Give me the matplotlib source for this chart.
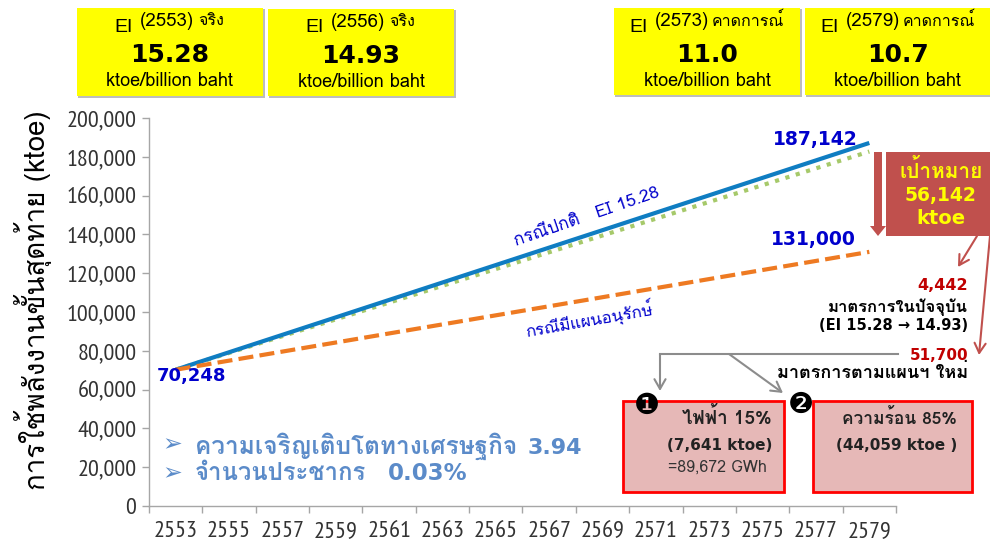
import matplotlib
matplotlib.use('Agg')
import matplotlib.pyplot as plt
from matplotlib.patches import Rectangle, FancyArrow

# ---------- data ----------
years = [2553, 2579]
normal_case = [70248, 187142]
current_measures = [70248, 182700]
plan_case = [70248, 131000]
year_labels = list(range(2553, 2581, 2))
y_values = list(range(0, 200001, 20000))

TH = ['Loma', 'DejaVu Sans']
TXT = ['DejaVu Sans']
NARROW = ['PT Sans Narrow', 'Liberation Sans']

fig = plt.figure(figsize=(9.9, 5.5), dpi=100)
ax = fig.add_axes([149/990, (550-506)/550, (896-149)/990, (506-118)/550])
ax.set_xlim(2552, 2580)
ax.set_ylim(0, 200000)
ax.plot(years, current_measures, color='#A6C96A', lw=3, ls=(0, (1, 1.6)), zorder=2)
ax.plot(years, normal_case, color='#0F7DC2', lw=3, zorder=3, solid_capstyle='butt')
ax.plot(years, plan_case, color='#EE7A22', lw=3, ls=(0, (3.6, 1.5)), zorder=4)
for s in ['top', 'right']:
    ax.spines[s].set_visible(False)
for s in ['left', 'bottom']:
    ax.spines[s].set_color('#A6A6A6')
    ax.spines[s].set_linewidth(1)
ax.set_yticks(y_values)
ax.set_yticklabels([f'{v:,}' for v in y_values], family=NARROW, fontsize=17.5, color='#333333')
ax.set_xticks(range(2552, 2581, 2))
ax.set_xticklabels([])
ax.set_xticks(year_labels, minor=True)
ax.set_xticklabels([str(y) for y in year_labels], minor=True, family=NARROW, fontsize=17.5, color='#333333')
ax.tick_params(axis='x', which='major', length=5, color='#A6A6A6', width=1)
ax.tick_params(axis='x', which='minor', length=0, pad=11)
ax.tick_params(axis='y', length=5, color='#A6A6A6', width=1, pad=4)

# ---------- overlay in pixel coordinates ----------
ov = fig.add_axes([0, 0, 1, 1], zorder=5)
ov.set_xlim(0, 990)
ov.set_ylim(550, 0)
ov.axis('off')
ov.patch.set_alpha(0)

def T(x, y, s, fam=TH, size=12, color='black', ha='center', weight='normal', rot=0):
    ov.text(x, y, s, family=fam, fontsize=size, color=color, ha=ha, va='center',
            weight=weight, rotation=rot, rotation_mode='anchor')

for (x0, x1, y0, y1, yr, tag, val, ei_dx, yr_dx) in [
    (77, 263, 8, 96, '(2553)', 'จริง', '15.28', 47, 90),
    (268, 454, 9, 96, '(2556)', 'จริง', '14.93', 47, 90),
    (614, 800, 8, 95, '(2573)', 'คาดการณ์', '11.0', 25, 68),
    (805, 990, 8, 95, '(2579)', 'คาดการณ์', '10.7', 25, 68),
]:
    ov.add_patch(Rectangle((x0+1, y0+1), x1-x0+1, y1-y0+1, fc='#BDBDBD', ec='none'))
    ov.add_patch(Rectangle((x0, y0), x1-x0, y1-y0, fc='#FFFF00', ec='none'))
    T(x0+ei_dx, y0+19, 'EI', fam=['Liberation Sans'], size=14)
    T(x0+yr_dx, y0+13, yr, size=13.5)
    T(x0+134, y0+13, tag, size=11.5)
    T((x0+x1)/2, y0+47, val, fam=TXT, size=18, weight='bold')
    T((x0+x1)/2, y0+73, 'ktoe/billion baht', size=13)

T(33, 300, 'การใช้พลังงานขั้นสุดท้าย (ktoe)', size=20, rot=90)

BL = '#0000CC'
T(815, 140, '187,142', fam=TXT, size=13.5, color=BL, weight='bold')
T(813, 240, '131,000', fam=TXT, size=13.5, color=BL, weight='bold')
T(192, 376, '70,248', fam=TXT, size=13, color=BL, weight='bold')
T(587, 217, 'กรณีปกติ   EI 15.28', size=12.5, color=BL, rot=19)
T(589, 319, 'กรณีมีแผนอนุรักษ์', size=12, color=BL, rot=10)

# target box and arrows
ov.add_patch(FancyArrow(878, 152, 0, 84, width=8, head_width=16, head_length=10,
                        length_includes_head=True, fc='#C0504D', ec='none'))
ov.add_patch(Rectangle((886, 152), 104, 84, fc='#C0504D', ec='none'))
YEL = '#FFFF00'
T(941, 171, 'เป้าหมาย', size=15, color=YEL, weight='bold')
T(941, 195, '56,142', fam=TXT, size=13.5, color=YEL, weight='bold')
T(941, 219, 'ktoe', fam=TXT, size=14, color=YEL, weight='bold')
for a, b in [((977, 236), (958, 267)), ((990, 236), (979, 355))]:
    ov.annotate('', xy=b, xytext=a, arrowprops=dict(arrowstyle='->,head_length=0.7,head_width=0.4',
                color='#C0504D', lw=1.5, shrinkA=0, shrinkB=0))

RED = '#C00000'
T(968, 286, '4,442', fam=TXT, size=11.5, color=RED, ha='right', weight='bold')
T(968, 307, 'มาตรการในปัจจุบัน', size=12, ha='right', weight='bold')
T(968, 326, '(EI 15.28 → 14.93)', fam=TXT, size=10.5, ha='right', weight='bold')
T(968, 355, '51,700', fam=TXT, size=11, color=RED, ha='right', weight='bold')
T(968, 373, 'มาตรการตามแผนฯ ใหม่', size=13, ha='right', weight='bold')

GR = '#8C8C8C'
ov.plot([660, 898], [354, 354], color=GR, lw=1.5)
for a, b in [((660, 354), (660, 391)), ((729, 354), (783, 393))]:
    ov.annotate('', xy=b, xytext=a, arrowprops=dict(arrowstyle='->,head_length=0.7,head_width=0.4',
                color=GR, lw=1.5, shrinkA=0, shrinkB=0))

for x0, x1 in [(623, 784), (813, 972)]:
    ov.add_patch(Rectangle((x0, 401), x1-x0, 91, fc='#E6B8B7', ec='#FF0000', lw=2))
T(647, 406, '❶', fam=TXT, size=21)
T(801, 405, '❷', fam=TXT, size=21)
T(727, 417, 'ไฟฟ้า 15%', size=13.5, weight='bold', color='#222222')
T(720, 445, '(7,641 ktoe)', fam=TXT, size=11, weight='bold', color='#222222')
T(717, 468, '=89,672 GWh', size=11.5, color='#333333')
T(899, 417, 'ความร้อน 85%', size=12.5, weight='bold', color='#222222')
T(897, 445, '(44,059 ktoe )', fam=TXT, size=11, weight='bold', color='#222222')

BU = '#5B8BC9'
T(172, 444, '➢', fam=TXT, size=17, color=BU)
T(172, 473, '➢', fam=TXT, size=17, color=BU)
T(195, 446, 'ความเจริญเติบโตทางเศรษฐกิจ', size=17.6, color=BU, ha='left', weight='bold')
T(528, 448, '3.94', fam=TXT, size=16, color=BU, ha='left', weight='bold')
T(195, 474, 'จำนวนประชากร', size=17.2, color=BU, ha='left', weight='bold')
T(388, 474, '0.03%', fam=TXT, size=16.5, color=BU, ha='left', weight='bold')

fig.savefig('out.png', dpi=100)
